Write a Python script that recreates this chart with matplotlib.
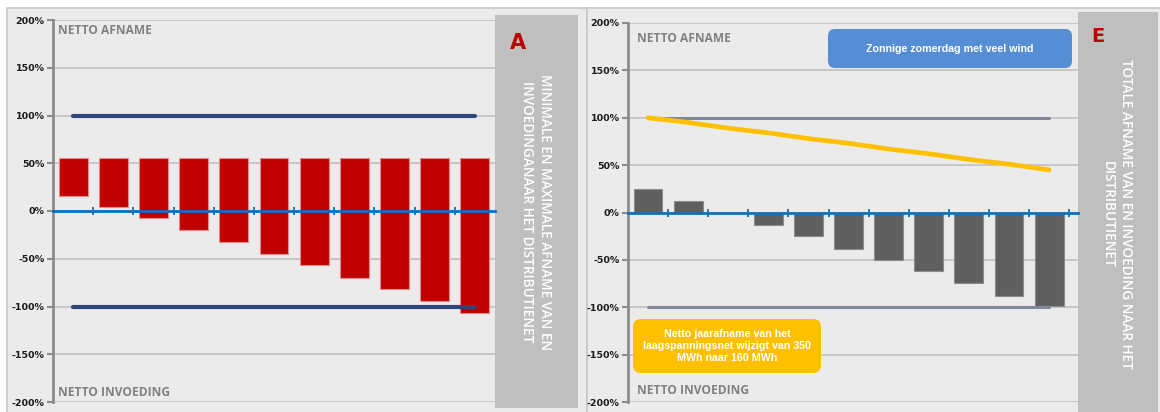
import matplotlib
matplotlib.use("Agg")
import matplotlib.pyplot as plt
from matplotlib.patches import Rectangle, FancyBboxPatch

# ---- data -------------------------------------------------------------
categories = list(range(11))
yticks = [-200, -150, -100, -50, 0, 50, 100, 150, 200]
ytick_labels = [f"{v}%" for v in yticks]

# panel A: floating bars between a common top and a varying bottom
a_top = [55, 55, 55, 55, 55, 55, 55, 55, 55, 55, 55]
a_bottom = [16, 4, -7, -20, -32, -45, -57, -70, -82, -94, -107]
a_max = [100] * 11
a_min = [-100] * 11

# panel E: net exchange per step, reference limits and yearly net offtake
e_values = [25, 12, 0, -13, -25, -38, -50, -62, -74, -88, -99]
e_max = [100] * 11
e_min = [-100] * 11
e_yearly = [100, 95, 89, 84, 78, 73, 67, 62, 56, 51, 45]

W, H = 1160, 412
BG = "#EBEBEB"
GRID = "#C4C4C4"
AXIS = "#8C8C8C"
BLUE = "#0A70C0"
RED = "#C00000"
SIDE = "#BFBFBF"

fig = plt.figure(figsize=(W / 100, H / 100), dpi=100)

# background layer in pixel coordinates
bg = fig.add_axes([0, 0, 1, 1])
bg.set_xlim(0, W)
bg.set_ylim(H, 0)
bg.axis("off")
bg.add_patch(Rectangle((7, 8), 580, 410, facecolor=BG, edgecolor="#C8C8C8", lw=1.2))
bg.add_patch(Rectangle((587, 8), 580, 410, facecolor=BG, edgecolor="#C8C8C8", lw=1.2))
bg.add_patch(Rectangle((495, 15), 83, 393, facecolor=SIDE, edgecolor="none"))
bg.add_patch(Rectangle((1078, 12), 80, 402, facecolor=SIDE, edgecolor="none"))


def style_axes(ax, xmax, xticks):
    ax.set_facecolor("none")
    ax.set_ylim(-200, 200)
    ax.set_xlim(-0.5, xmax)
    ax.set_yticks(yticks)
    ax.set_yticklabels(ytick_labels, fontsize=6.8, fontweight="bold",
                       family="DejaVu Sans", color="#1A1A1A")
    ax.yaxis.grid(True, color=GRID, lw=1.3)
    ax.set_axisbelow(True)
    for s in ("top", "right"):
        ax.spines[s].set_visible(False)
    ax.spines["left"].set_color(AXIS)
    ax.spines["left"].set_linewidth(2)
    ax.tick_params(axis="y", length=4, width=1.5, color=AXIS, pad=2)
    ax.spines["bottom"].set_position(("data", 0))
    ax.spines["bottom"].set_color(BLUE)
    ax.spines["bottom"].set_linewidth(2)
    ax.spines["bottom"].set_zorder(4)
    ax.set_xticks(xticks)
    ax.tick_params(axis="x", direction="inout", length=6, width=1.3,
                   color=BLUE, labelbottom=False)


# ---- panel A ----------------------------------------------------------
axA = fig.add_axes([53 / W, 1 - 402 / H, (495 - 53) / W, (402 - 20) / H])
style_axes(axA, 10.5, [c + 0.5 for c in categories[:-1]])
heights = [t - b for t, b in zip(a_top, a_bottom)]
axA.bar(categories, heights, bottom=a_bottom, width=0.72, color=RED,
        edgecolor="#E58A8A", linewidth=0.8, zorder=2)
axA.plot(categories, a_max, color="#2B4677", lw=3, solid_capstyle="round", zorder=5)
axA.plot(categories, a_min, color="#2B4677", lw=3, solid_capstyle="round", zorder=5)

# ---- panel E ----------------------------------------------------------
axE = fig.add_axes([628 / W, 1 - 402 / H, (1078 - 628) / W, (402 - 23) / H])
style_axes(axE, 10.72, [c + 0.5 for c in categories])
axE.bar(categories, e_values, width=0.72, color="#5F5F5F",
        edgecolor="#8C8C8C", linewidth=0.8, zorder=2)
axE.plot(categories, e_max, color="#7F8A98", lw=2.2, solid_capstyle="round", zorder=5)
axE.plot(categories, e_min, color="#7F8A98", lw=2.2, solid_capstyle="round", zorder=5)
axE.plot(categories, e_yearly, color="#FFC000", lw=3.4, solid_capstyle="round", zorder=6)

# ---- overlay: labels and callouts ------------------------------------
fg = fig.add_axes([0, 0, 1, 1])
fg.set_xlim(0, W)
fg.set_ylim(H, 0)
fg.axis("off")
fg.set_facecolor("none")

corner = dict(fontsize=8.6, fontweight="bold", color="#808080", family="Open Sans",
              va="center", ha="left")
fg.text(58, 30, "NETTO AFNAME", **corner)
fg.text(58, 392, "NETTO INVOEDING", **corner)
fg.text(637, 38, "NETTO AFNAME", **corner)
fg.text(637, 391, "NETTO INVOEDING", **corner)

fg.text(518, 43, "A", fontsize=15, fontweight="bold", color=RED,
        family="DejaVu Sans", ha="center", va="center")
fg.text(1098, 36, "E", fontsize=14, fontweight="bold", color=RED,
        family="DejaVu Sans", ha="center", va="center")

side = dict(rotation=-90, ha="center", va="center", ma="center", color="white",
            fontsize=9.8, family="Open Sans", fontweight="semibold", linespacing=1.35)
fg.text(536, 212, "MINIMALE EN MAXIMALE AFNAME VAN EN\nINVOEDINGANAAR HET DISTRIBUTIENET", **side)
fg.text(1117, 214, "TOTALE AFNAME VAN EN INVOEDING NAAR HET\nDISTRIBUTIENET", **side)

fg.add_patch(FancyBboxPatch((828, 29), 244, 39,
                            boxstyle="round,pad=0,rounding_size=7",
                            facecolor="#558ED5", edgecolor="none"))
fg.text(950, 49, "Zonnige zomerdag met veel wind", fontsize=7.7, fontweight="bold",
        color="white", family="Liberation Sans", ha="center", va="center")

fg.add_patch(FancyBboxPatch((633, 319), 188, 54,
                            boxstyle="round,pad=0,rounding_size=8",
                            facecolor="#FFC000", edgecolor="none"))
fg.text(727, 346, "Netto jaarafname van het\nlaagspanningsnet wijzigt van 350\nMWh naar 160 MWh",
        fontsize=7.7, fontweight="bold", color="white", family="Liberation Sans",
        ha="center", va="center", ma="center", linespacing=1.2)

fig.savefig("out.png", dpi=100)
